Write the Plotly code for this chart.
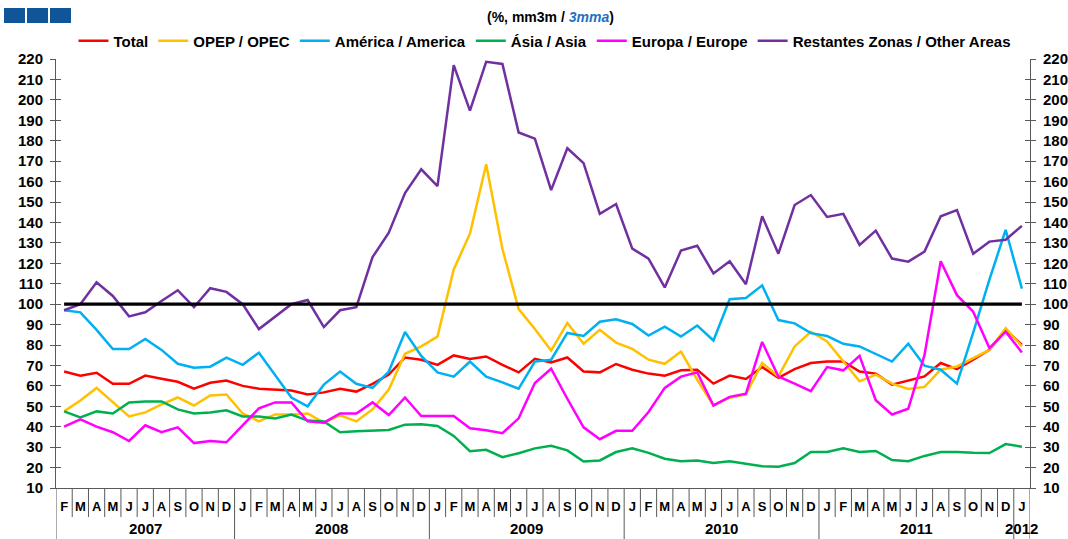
import plotly.graph_objects as go

# ---------------- data ----------------
month_labels = ["F", "M", "A", "M", "J", "J", "A", "S", "O", "N", "D",
                "J", "F", "M", "A", "M", "J", "J", "A", "S", "O", "N", "D",
                "J", "F", "M", "A", "M", "J", "J", "A", "S", "O", "N", "D",
                "J", "F", "M", "A", "M", "J", "J", "A", "S", "O", "N", "D",
                "J", "F", "M", "A", "M", "J", "J", "A", "S", "O", "N", "D",
                "J"]
year_labels = ["2007", "2008", "2009", "2010", "2011", "2012"]
year_counts = [11, 12, 12, 12, 12, 1]

total = [67, 65, 66.4, 61, 61, 65, 63.5, 62, 58.6, 61.5, 62.6,
         60, 58.6, 58.2, 57.7, 55.8, 56.8, 58.6, 57.2, 61, 65.5, 73.9, 72.8,
         70.3, 74.9, 73.2, 74.4, 70.3, 66.6, 73.2, 71.5, 73.9, 67, 66.6, 70.7,
         67.9, 66, 65, 67.6, 67.9, 61.1, 65, 63.4, 69.2, 63.9, 68.2, 71.2,
         71.9, 71.9, 67, 66, 60.6, 62.7, 64.6, 71.2, 68.2, 72.8, 77.6, 87.4,
         80.1]
opec = [47.5, 52.8, 59, 52, 45, 47, 50.9, 54.3, 50.4, 55.3, 55.8,
        46.5, 42.6, 46, 46, 46.5, 42, 45.6, 42.6, 48.5, 58.2, 75.7, 79.3,
        84.1, 117, 134.5, 168.5, 127, 97.6, 87.8, 77.3, 90.8, 80.6, 87.4, 81.2,
        78.1, 72.8, 70.8, 76.8, 63, 50.4, 54.2, 55.8, 71.2, 64.6, 79.3, 86.5,
        81.7, 71.9, 62.2, 65.5, 61.1, 58.5, 59.5, 67.9, 69.5, 73.6, 77.6, 88.2,
        79.3]
america = [97, 96, 87.4, 78, 78, 83, 77.6, 70.8, 68.9, 69.4, 73.8,
           70.3, 76.2, 65, 54.3, 50, 60.6, 67, 61, 59, 67, 86.4, 74.7,
           66.6, 64.5, 71.9, 64.5, 61.7, 58.6, 71.9, 72.8, 85.9, 84.4, 91.4, 92.6,
           90.3, 84.6, 89, 84.1, 89.5, 82.2, 102.4, 103, 109.2, 92.2, 90.6, 85.8,
           84.4, 80.6, 79.3, 75.7, 71.9, 80.6, 69.9, 67.9, 61.1, 86, 112, 136.4,
           107.6]
asia = [47.5, 44.6, 47.5, 46.5, 51.9, 52.4, 52.4, 48.5, 46.5, 47, 48,
        45, 45, 44, 46, 43, 42.6, 37.3, 37.8, 38, 38.4, 41, 41.2,
        40.4, 35.5, 28, 28.7, 25.1, 27, 29.4, 30.7, 28.4, 23, 23.5, 27.6,
        29.4, 27.2, 24.3, 23.1, 23.5, 22.2, 23.1, 21.7, 20.6, 20.4, 22.2, 27.6,
        27.6, 29.4, 27.6, 28.1, 23.7, 23.1, 25.7, 27.6, 27.6, 27.2, 27.1, 31.5,
        30.2]
europe = [40, 43.6, 40, 37.3, 33, 40.7, 37.3, 39.7, 32, 33, 32.4,
          40.7, 49, 51.9, 51.9, 42.6, 42, 46.5, 46.5, 51.9, 45.7, 54.3, 45.2,
          45.2, 45.2, 39.2, 38.3, 36.8, 44.1, 61.4, 68.4, 53.7, 39.7, 33.9, 38,
          38, 47.2, 59, 64.5, 66.6, 50.4, 54.6, 56.2, 81.5, 64.6, 61.1, 57.4,
          69.2, 67.6, 74.7, 53, 46, 48.8, 75, 121, 104.4, 96.3, 78.5, 86.5,
          76.3]
other = [97, 100, 110.7, 104, 94, 96, 101.5, 106.8, 98.5, 107.8, 106,
         100, 87.8, 93.7, 100, 102, 88.8, 97, 98.5, 123, 135, 154.4, 166,
         157.8, 217, 194.7, 218.6, 217.6, 184, 181, 155.8, 176.3, 169, 144.2, 149,
         127.2, 122.3, 108.2, 126.2, 128.6, 115, 121, 109.7, 143, 124.7, 148.5, 153.4,
         142.7, 144.2, 129, 136, 122.3, 120.8, 125.7, 143, 146, 124.7, 130.6, 131.5,
         138.3]
reference_level = [100] * len(month_labels)

series_names = ["Total", "OPEP / OPEC", "América / America", "Ásia / Asia",
                "Europa / Europe", "Restantes Zonas / Other Areas"]
series_values = [total, opec, america, asia, europe, other]
series_colors = ["#FF0000", "#FFC000", "#00B0F0", "#00B050", "#FF00FF", "#7030A0"]

# ---------------- layout geometry ----------------
W, H = 1068, 539
ML, MR, MT, MB = 56, 38, 59, 51
PW, PH = W - ML - MR, H - MT - MB


def pxx(p):
    return (p - ML) / PW


def pxy(p):
    return (H - MB - p) / PH


FONT = "Liberation Sans, Arial, sans-serif"
x_idx = list(range(len(month_labels)))

fig = go.Figure()

for name, vals, col in zip(series_names, series_values, series_colors):
    fig.add_trace(go.Scatter(x=x_idx, y=vals, name=name, mode="lines",
                             line=dict(color=col, width=2.5)))

fig.add_trace(go.Scatter(x=x_idx, y=reference_level, mode="lines",
                         line=dict(color="black", width=3.2), showlegend=False,
                         hoverinfo="skip"))
# carrier traces for the overlay axes (invisible)
for ax in ["y2", "y3"]:
    fig.add_trace(go.Scatter(x=x_idx, y=reference_level, mode="lines", yaxis=ax,
                             line=dict(color="rgba(0,0,0,0)", width=0),
                             showlegend=False, hoverinfo="skip"))

axis_col = "#595959"
tickfont = dict(family=FONT, size=15, color="black", weight="bold")
yrange = [10, 220]

fig.update_layout(
    width=W, height=H,
    margin=dict(l=ML, r=MR, t=MT, b=MB, pad=0, autoexpand=False),
    paper_bgcolor="white", plot_bgcolor="white",
    font=dict(family=FONT, color="black"),
    showlegend=True,
    legend=dict(orientation="h", x=pxx(545), xanchor="center", y=pxy(41), yanchor="middle",
                font=dict(family=FONT, size=15, color="black", weight="bold"),
                itemwidth=30, tracegroupgap=0, bgcolor="rgba(0,0,0,0)"),
    xaxis=dict(range=[-0.5, len(month_labels) - 0.5], tickmode="array",
               tickvals=x_idx, ticktext=month_labels, ticks="",
               showline=True, linecolor=axis_col, linewidth=1,
               showgrid=False, zeroline=False, automargin=False,
               tickfont=dict(family=FONT, size=13, color="black", weight="bold"),
               ticklabelstandoff=6),
    yaxis=dict(range=yrange, tick0=10, dtick=10, ticks="outside", ticklen=5,
               tickcolor=axis_col, showline=True, linecolor=axis_col, linewidth=1,
               showgrid=False, zeroline=False, tickfont=tickfont, automargin=False,
               ticklabelstandoff=4),
    yaxis2=dict(range=yrange, tick0=10, dtick=10, overlaying="y", side="right",
                ticks="outside", ticklen=5, tickcolor=axis_col, showline=True,
                linecolor=axis_col, linewidth=1, showgrid=False, zeroline=False,
                tickfont=tickfont, ticklabelstandoff=4, automargin=False),
    yaxis3=dict(range=yrange, tick0=10, dtick=10, overlaying="y", side="left",
                ticks="inside", ticklen=5, tickcolor=axis_col, showline=False,
                mirror="ticks", showticklabels=False, showgrid=False,
                zeroline=False, automargin=False),
)

# category separators and year labels
shapes = []
annotations = []
year_ends = set()
start = 0
for yl, cnt in zip(year_labels, year_counts):
    annotations.append(dict(x=start + (cnt - 1) / 2, y=pxy(528), xref="x", yref="paper",
                            text=yl, showarrow=False, xanchor="center", yanchor="middle",
                            font=dict(family=FONT, size=15, color="black", weight="bold")))
    year_ends.add(start - 0.5)
    year_ends.add(start + cnt - 0.5)
    start += cnt

for i in range(len(month_labels) + 1):
    b = i - 0.5
    y_bottom = pxy(539) if b in year_ends else pxy(517)
    shapes.append(dict(type="line", xref="x", yref="paper", x0=b, x1=b, y0=0, y1=y_bottom,
                       line=dict(color=axis_col, width=1)))

# logo blocks at top-left
for x0 in [4, 27, 50]:
    shapes.append(dict(type="rect", xref="paper", yref="paper",
                       x0=pxx(x0), x1=pxx(x0 + 21), y0=pxy(23), y1=pxy(8),
                       fillcolor="#0F5598", line=dict(width=0)))

annotations.append(dict(x=pxx(550), y=pxy(17), xref="paper", yref="paper",
                        text="(%, mm3m / <span style='color:#1F6FC5'><i>3mma</i></span>)",
                        showarrow=False, xanchor="center", yanchor="middle",
                        font=dict(family=FONT, size=14, color="black", weight="bold")))

fig.update_layout(shapes=shapes, annotations=annotations)

fig.write_html("out.html",
               config={"displayModeBar": False},
               post_script="document.body.style.margin='0';document.body.style.overflow='hidden';")
